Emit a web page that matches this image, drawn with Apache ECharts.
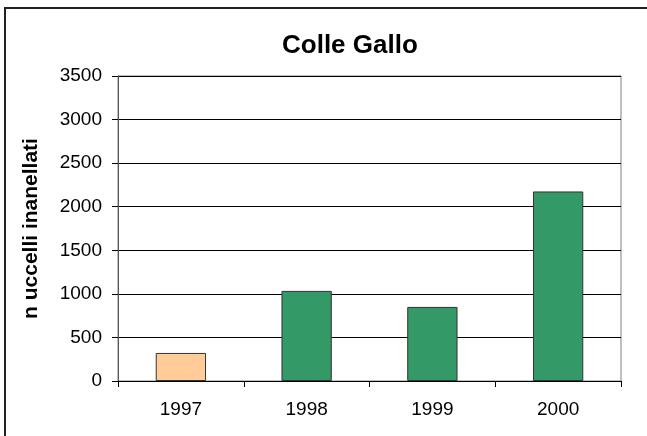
<!DOCTYPE html>
<html>
<head>
<meta charset="utf-8">
<script src="https://cdn.jsdelivr.net/npm/echarts@6/dist/echarts.min.js"></script>
<style>
  html, body { margin: 0; padding: 0; background: #fff; overflow: hidden; }
  /* chart-area frame: only its left and top edges fall inside the window */
  #frame { position: absolute; left: 4px; top: 7px; width: 700px; height: 500px;
           border-left: 2px solid #222; border-top: 2px solid #222; }
  #chart { position: absolute; left: 0; top: 0; width: 647px; height: 436px; }
</style>
</head>
<body>
<div id="frame"></div>
<div id="chart"></div>
<script>
// Ringed birds per year at Colle Gallo
const years = ['1997', '1998', '1999', '2000'];
const ringed = [322, 1034, 850, 2175];
const barColors = ['#FFCC99', '#339966', '#339966', '#339966'];
const font = 'Liberation Sans, Arial, sans-serif';

const chart = echarts.init(document.getElementById('chart'), null, { renderer: 'canvas' });
chart.setOption({
  animation: false,
  title: {
    text: 'Colle Gallo',
    left: 277,
    top: 28,
    textStyle: { fontFamily: font, fontSize: 26, fontWeight: 'bold', color: '#000' }
  },
  grid: {
    left: 118, right: 26, top: 76, bottom: 55,
    show: true, borderColor: '#808080', borderWidth: 1, backgroundColor: 'transparent'
  },
  xAxis: {
    type: 'category',
    data: years,
    axisLine: { lineStyle: { color: '#000', width: 1 } },
    axisTick: { show: true, alignWithLabel: false, length: 6, lineStyle: { color: '#000' } },
    axisLabel: { fontFamily: font, fontSize: 19, color: '#000', margin: 19 }
  },
  yAxis: {
    type: 'value',
    min: 0,
    max: 3500,
    interval: 500,
    name: 'n uccelli inanellati',
    nameLocation: 'middle',
    nameGap: 76,
    nameTextStyle: { fontFamily: font, fontSize: 21, fontWeight: 'bold', color: '#000' },
    axisLine: { show: true, lineStyle: { color: '#555', width: 1 } },
    axisTick: { show: true, length: 6, lineStyle: { color: '#000' } },
    axisLabel: { fontFamily: font, fontSize: 19, color: '#000', margin: 16, formatter: v => String(v) },
    splitLine: { show: true, lineStyle: { color: '#000', width: 1 } }
  },
  series: [{
    type: 'bar',
    data: ringed.map((v, i) => ({ value: v, itemStyle: { color: barColors[i] } })),
    barWidth: '40%',
    itemStyle: { borderColor: '#333', borderWidth: 1 }
  }]
});
</script>
</body>
</html>
